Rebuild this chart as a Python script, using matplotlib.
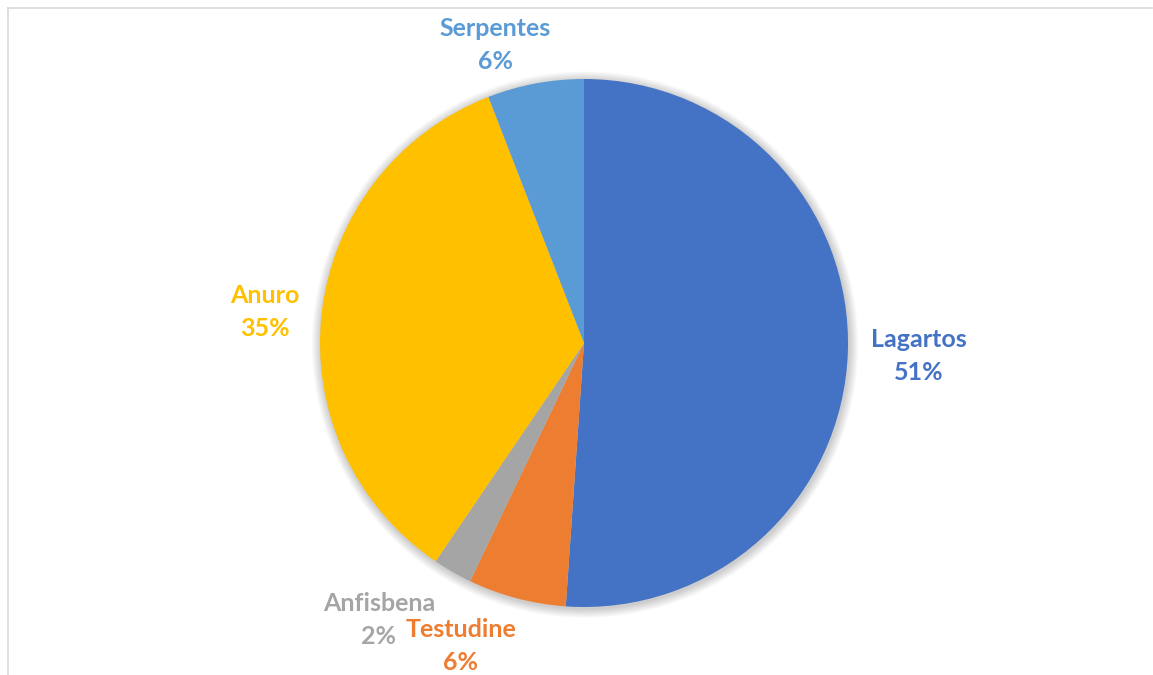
import matplotlib.pyplot as plt
from matplotlib.patches import Circle
from matplotlib.lines import Line2D

# grupos, em ordem horária a partir do topo
grupos = ['Lagartos', 'Testudine', 'Anfisbena', 'Anuro', 'Serpentes']
valores = [51.1, 6.0, 2.4, 34.6, 5.9]
cores = ['#4472C4', '#ED7D31', '#A5A5A5', '#FFC000', '#5B9BD5']

# posição dos rótulos (em raios, relativo ao centro)
pos_rotulos = [(1.267, -0.051), (-0.466, -1.146), (-0.777, -1.049),
               (-1.208, 0.119), (-0.337, 1.127)]
meia_linha = 16.5 / 264

plt.rcParams['font.family'] = ['Lato', 'DejaVu Sans']

fig = plt.figure(figsize=(11.53, 6.75), dpi=100)
ax = fig.add_axes([0, 0, 1, 1])
ax.set_aspect('equal')
ax.axis('off')

# sombra suave em volta da pizza
for i in range(10):
    ax.add_patch(Circle((0.004, -0.006), 1.0 + 0.0035 * (i + 1),
                        color='black', alpha=0.018, lw=0, zorder=1))

ax.pie(valores, colors=cores, startangle=90, counterclock=False,
       radius=1.0, center=(0, 0), wedgeprops={'linewidth': 0, 'zorder': 2})
ax.set_xlim(-584 / 264, (1153 - 584) / 264)
ax.set_ylim(-(675 - 343) / 264, 343 / 264)

total = sum(valores)
for nome, v, c, (x, y) in zip(grupos, valores, cores, pos_rotulos):
    estilo = dict(color=c, fontsize=18, fontweight='bold',
                  ha='center', va='center', zorder=5)
    ax.text(x, y + meia_linha, nome, **estilo)
    ax.text(x, y - meia_linha, f'{round(v / total * 100):.0f}%', **estilo)

# moldura da área do gráfico
fig.add_artist(Line2D([7.5 / 1153, 1152 / 1153], [1 - 8 / 675, 1 - 8 / 675],
                      transform=fig.transFigure, color='#D9D9D9', lw=1.2))
fig.add_artist(Line2D([7.5 / 1153, 7.5 / 1153], [0, 1 - 8 / 675],
                      transform=fig.transFigure, color='#D9D9D9', lw=1.2))

fig.savefig('out.png', dpi=100, facecolor='white')
